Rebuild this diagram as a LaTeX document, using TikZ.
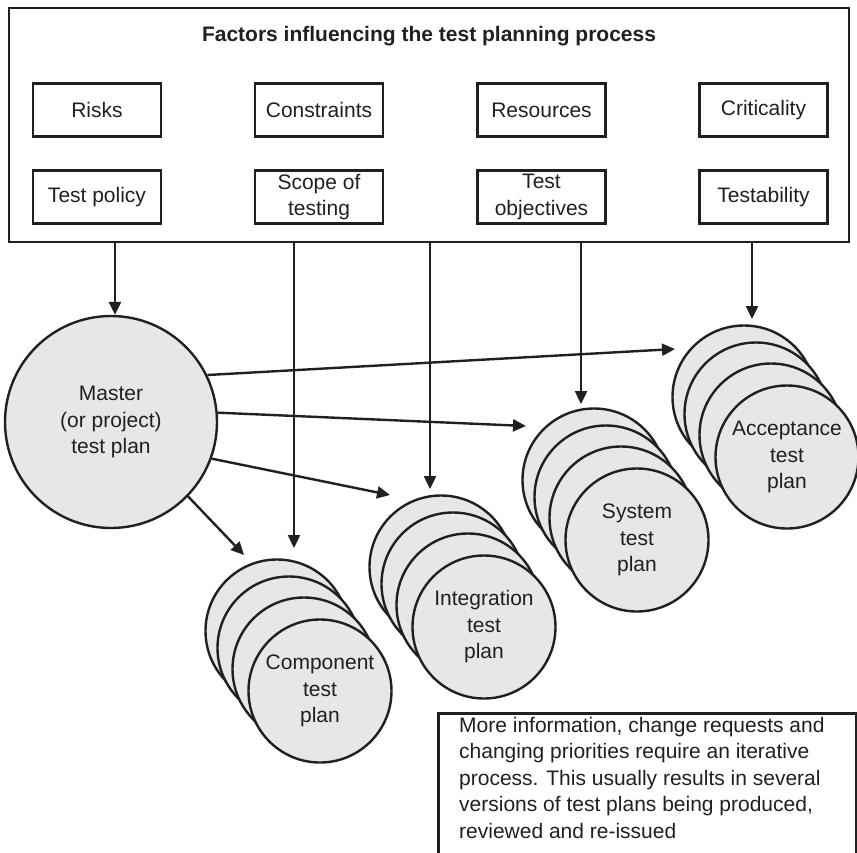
\documentclass[tikz,border=0pt]{standalone}
\usepackage{fontspec}
\setmainfont{Liberation Sans}
\usetikzlibrary{arrows.meta,calc}
\definecolor{ink}{RGB}{35,31,32}
\definecolor{plangray}{RGB}{230,231,232}
\newcommand\planstack[4]{%
  \foreach \dx/\dy/\k in {-43/-60/1,-31/-43/2,-16/-22/3}{%
    \node[plan] (#1\k) at ({#2+\dx},{#3+\dy}) {};}
  \node[plan] (#1) at (#2,#3) {#4};}
\begin{document}
\begin{tikzpicture}[x=1pt,y=-1pt,
  every node/.style={font=\fontsize{21}{26.5}\selectfont, text=ink},
  factor/.style={draw=ink, line width=2.5pt, minimum width=128pt, minimum height=53pt, inner sep=0pt, align=center},
  plan/.style={circle, draw=ink, fill=plangray, line width=2.4pt, minimum size=143pt, inner sep=0pt, align=center},
  arr/.style={draw=ink, line width=2.4pt, -{Triangle[length=13pt,width=12pt]}}]
\useasboundingbox (0,0) rectangle (857,852);
\clip (0,0) rectangle (857,852);

% factors box
\node[draw=ink, line width=2.5pt, minimum width=840pt, minimum height=234pt, inner sep=0pt] (outer) at (429,125) {};
\node[font=\bfseries\fontsize{21}{26.5}\selectfont] (title) at (429,36) {Factors influencing the test planning process};
\node[factor] (risks) at (97,110) {Risks};
\node[factor] (constr) at (319,110) {Constraints};
\node[factor] (resour) at (541.5,110) {Resources};
\node[factor] (crit) at (763.5,110) {Criticality};
\node[factor] (policy) at (97,197) {Test policy};
\node[factor] (scope) at (319,197) {Scope of\\testing};
\node[factor] (objec) at (541.5,197) {Test\\objectives};
\node[factor] (testab) at (763.5,197) {Testability};

% master
\node[circle, draw=ink, fill=plangray, line width=2.4pt, minimum size=212pt, inner sep=0pt, align=center] (master) at (111,422) {Master\\(or project)\\test plan};

% stacks
\planstack{acc}{787}{457}{Acceptance\\test\\plan}
\planstack{sys}{637}{540}{System\\test\\plan}
\planstack{integ}{484}{627}{Integration\\test\\plan}
\planstack{comp}{320}{691}{Component\\test\\plan}

% connector coordinates
\coordinate (s1) at (115,242);
\coordinate (s2) at (294,242);
\coordinate (s3) at (430,242);
\coordinate (s4) at (581,242);
\coordinate (s5) at (752,242);
\coordinate (e2) at (294,548);
\coordinate (e3) at (430,489);
\coordinate (e4) at (581,404);
\coordinate (e5) at (752,319);
\coordinate (ea) at (675,349);
\coordinate (es) at (526,426);
\coordinate (ei) at (390,495);
\coordinate (ec) at (244,555);

\draw[arr] (s1) -- (s1 |- master.north);
\draw[arr] (s2) -- (e2);
\draw[arr] (s3) -- (e3);
\draw[arr] (s4) -- (e4);
\draw[arr] (s5) -- (e5);
\draw[arr] (master.26.6) -- (ea);
\draw[arr] (master.5.9) -- (es);
\draw[arr] (master.-20.3) -- (ei);
\draw[arr] (master.-44.3) -- (ec);

% note box
\node[draw=ink, line width=2.5pt, anchor=north west, minimum width=418pt, minimum height=200pt, inner sep=0pt] (notebox) at (437,712) {};
\node[anchor=north west, align=left, inner sep=0pt] (note) at (459,717) {More information, change requests and\\changing priorities require an iterative\\process. This usually results in several\\versions of test plans being produced,\\reviewed and re-issued};
\end{tikzpicture}
\end{document}
